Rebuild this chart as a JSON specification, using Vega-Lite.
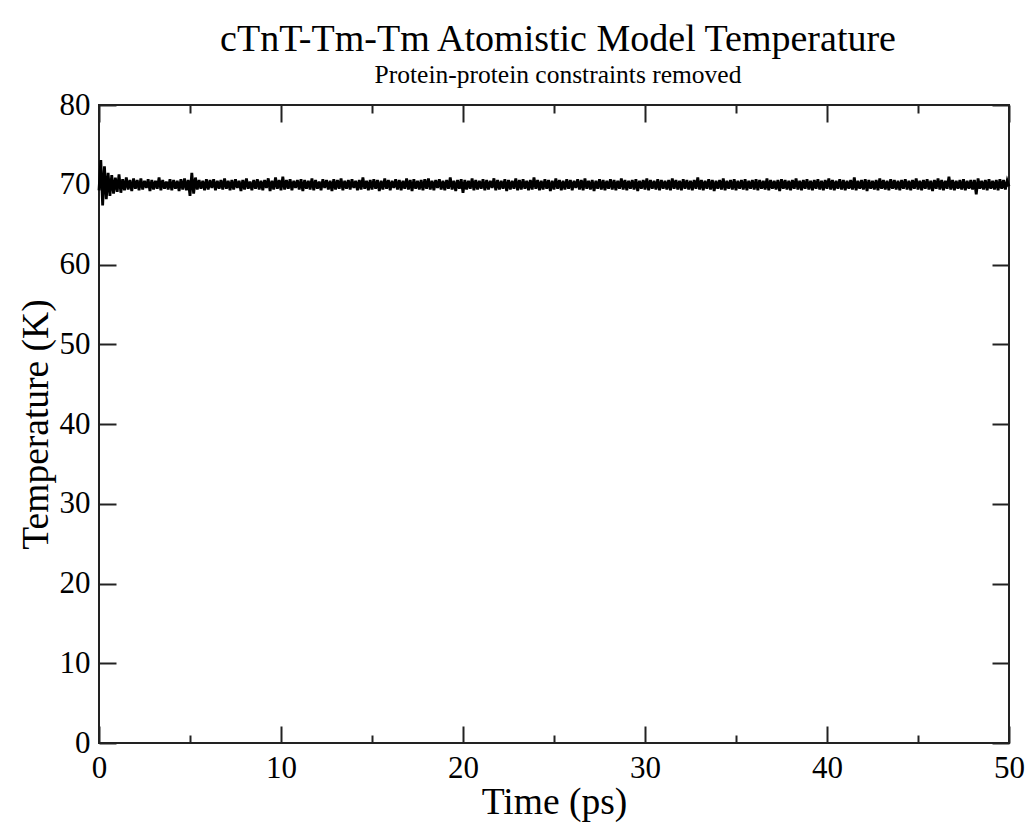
{
  "$schema": "https://vega.github.io/schema/vega-lite/v6.json",
  "width": 910,
  "height": 638,
  "autosize": {"type": "none"},
  "padding": {"left": 99, "top": 105, "right": 21, "bottom": 80},
  "background": "white",
  "config": {
    "view": {"stroke": "#222", "strokeWidth": 2},
    "font": "Liberation Serif",
    "axis": {
      "domain": false,
      "grid": false,
      "labelFont": "Liberation Serif",
      "labelFontSize": 30,
      "labelColor": "black",
      "labelFlush": false,
      "labelOverlap": false,
      "titleFont": "Liberation Serif",
      "titleFontSize": 37,
      "titleFontWeight": "normal",
      "titleColor": "black",
      "tickColor": "#222",
      "tickWidth": 2
    }
  },
  "title": {
    "text": "cTnT-Tm-Tm Atomistic Model Temperature",
    "subtitle": "Protein-protein constraints removed",
    "font": "Liberation Serif",
    "subtitleFont": "Liberation Serif",
    "fontSize": 38,
    "subtitleFontSize": 25.5,
    "fontWeight": "normal",
    "color": "black",
    "subtitleColor": "black",
    "anchor": "middle",
    "dx": 4,
    "offset": 1,
    "subtitlePadding": 4
  },
  "data": {"values": [
{"time":0.0,"temp":69.3},{"time":0.1,"temp":73.1},{"time":0.2,"temp":67.4},{"time":0.3,"temp":72.3},{"time":0.4,"temp":68.2},{"time":0.5,"temp":71.5},{"time":0.6,"temp":68.6},{"time":0.7,"temp":71.2},{"time":0.8,"temp":68.9},{"time":0.9,"temp":70.9},
{"time":1.0,"temp":69.1},{"time":1.1,"temp":71.3},{"time":1.2,"temp":69.0},{"time":1.3,"temp":70.7},{"time":1.4,"temp":69.3},{"time":1.5,"temp":70.9},{"time":1.6,"temp":69.4},{"time":1.7,"temp":70.6},{"time":1.8,"temp":69.2},{"time":1.9,"temp":70.8},
{"time":2.0,"temp":69.5},{"time":2.1,"temp":70.6},{"time":2.2,"temp":69.3},{"time":2.3,"temp":70.8},{"time":2.4,"temp":69.4},{"time":2.5,"temp":70.5},{"time":2.6,"temp":69.6},{"time":2.7,"temp":70.7},{"time":2.8,"temp":69.2},{"time":2.9,"temp":70.6},
{"time":3.0,"temp":69.4},{"time":3.1,"temp":70.5},{"time":3.2,"temp":69.5},{"time":3.3,"temp":70.9},{"time":3.4,"temp":69.3},{"time":3.5,"temp":70.6},{"time":3.6,"temp":69.5},{"time":3.7,"temp":70.4},{"time":3.8,"temp":69.4},{"time":3.9,"temp":70.7},
{"time":4.0,"temp":69.3},{"time":4.1,"temp":70.6},{"time":4.2,"temp":69.5},{"time":4.3,"temp":70.5},{"time":4.4,"temp":69.2},{"time":4.5,"temp":70.7},{"time":4.6,"temp":69.4},{"time":4.7,"temp":70.8},{"time":4.8,"temp":69.3},{"time":4.9,"temp":70.6},
{"time":5.0,"temp":68.6},{"time":5.1,"temp":71.5},{"time":5.2,"temp":68.9},{"time":5.3,"temp":70.9},{"time":5.4,"temp":69.4},{"time":5.5,"temp":70.6},{"time":5.6,"temp":69.5},{"time":5.7,"temp":70.5},{"time":5.8,"temp":69.3},{"time":5.9,"temp":70.7},
{"time":6.0,"temp":69.4},{"time":6.1,"temp":70.6},{"time":6.2,"temp":69.6},{"time":6.3,"temp":70.7},{"time":6.4,"temp":69.3},{"time":6.5,"temp":70.5},{"time":6.6,"temp":69.5},{"time":6.7,"temp":70.6},{"time":6.8,"temp":69.4},{"time":6.9,"temp":70.8},
{"time":7.0,"temp":69.5},{"time":7.1,"temp":70.5},{"time":7.2,"temp":69.3},{"time":7.3,"temp":70.6},{"time":7.4,"temp":69.4},{"time":7.5,"temp":70.7},{"time":7.6,"temp":69.6},{"time":7.7,"temp":70.5},{"time":7.8,"temp":69.2},{"time":7.9,"temp":70.6},
{"time":8.0,"temp":69.4},{"time":8.1,"temp":70.8},{"time":8.2,"temp":69.5},{"time":8.3,"temp":70.4},{"time":8.4,"temp":69.3},{"time":8.5,"temp":70.6},{"time":8.6,"temp":69.5},{"time":8.7,"temp":70.7},{"time":8.8,"temp":69.4},{"time":8.9,"temp":70.5},
{"time":9.0,"temp":69.3},{"time":9.1,"temp":70.6},{"time":9.2,"temp":69.6},{"time":9.3,"temp":70.8},{"time":9.4,"temp":69.2},{"time":9.5,"temp":70.5},{"time":9.6,"temp":69.4},{"time":9.7,"temp":70.9},{"time":9.8,"temp":69.5},{"time":9.9,"temp":70.6},
{"time":10.0,"temp":69.3},{"time":10.1,"temp":71.0},{"time":10.2,"temp":69.4},{"time":10.3,"temp":70.6},{"time":10.4,"temp":69.5},{"time":10.5,"temp":70.7},{"time":10.6,"temp":69.3},{"time":10.7,"temp":70.5},{"time":10.8,"temp":69.6},{"time":10.9,"temp":70.6},
{"time":11.0,"temp":69.4},{"time":11.1,"temp":70.7},{"time":11.2,"temp":69.2},{"time":11.3,"temp":70.6},{"time":11.4,"temp":69.5},{"time":11.5,"temp":70.5},{"time":11.6,"temp":69.4},{"time":11.7,"temp":70.8},{"time":11.8,"temp":69.3},{"time":11.9,"temp":70.6},
{"time":12.0,"temp":69.5},{"time":12.1,"temp":70.4},{"time":12.2,"temp":69.3},{"time":12.3,"temp":70.7},{"time":12.4,"temp":69.6},{"time":12.5,"temp":70.6},{"time":12.6,"temp":69.4},{"time":12.7,"temp":70.5},{"time":12.8,"temp":69.2},{"time":12.9,"temp":70.7},
{"time":13.0,"temp":69.4},{"time":13.1,"temp":70.6},{"time":13.2,"temp":69.5},{"time":13.3,"temp":70.8},{"time":13.4,"temp":69.3},{"time":13.5,"temp":70.5},{"time":13.6,"temp":69.5},{"time":13.7,"temp":70.6},{"time":13.8,"temp":69.4},{"time":13.9,"temp":70.7},
{"time":14.0,"temp":69.6},{"time":14.1,"temp":70.5},{"time":14.2,"temp":69.3},{"time":14.3,"temp":70.6},{"time":14.4,"temp":69.4},{"time":14.5,"temp":70.9},{"time":14.6,"temp":69.5},{"time":14.7,"temp":70.5},{"time":14.8,"temp":69.3},{"time":14.9,"temp":70.6},
{"time":15.0,"temp":69.4},{"time":15.1,"temp":70.7},{"time":15.2,"temp":69.5},{"time":15.3,"temp":70.6},{"time":15.4,"temp":69.2},{"time":15.5,"temp":70.5},{"time":15.6,"temp":69.4},{"time":15.7,"temp":70.8},{"time":15.8,"temp":69.5},{"time":15.9,"temp":70.6},
{"time":16.0,"temp":69.3},{"time":16.1,"temp":70.5},{"time":16.2,"temp":69.6},{"time":16.3,"temp":70.7},{"time":16.4,"temp":69.4},{"time":16.5,"temp":70.6},{"time":16.6,"temp":69.3},{"time":16.7,"temp":70.5},{"time":16.8,"temp":69.5},{"time":16.9,"temp":70.8},
{"time":17.0,"temp":69.4},{"time":17.1,"temp":70.6},{"time":17.2,"temp":69.2},{"time":17.3,"temp":70.7},{"time":17.4,"temp":69.5},{"time":17.5,"temp":70.5},{"time":17.6,"temp":69.4},{"time":17.7,"temp":70.6},{"time":17.8,"temp":69.3},{"time":17.9,"temp":70.7},
{"time":18.0,"temp":69.5},{"time":18.1,"temp":70.8},{"time":18.2,"temp":69.4},{"time":18.3,"temp":70.5},{"time":18.4,"temp":69.3},{"time":18.5,"temp":70.6},{"time":18.6,"temp":69.6},{"time":18.7,"temp":70.7},{"time":18.8,"temp":69.4},{"time":18.9,"temp":70.5},
{"time":19.0,"temp":69.3},{"time":19.1,"temp":70.6},{"time":19.2,"temp":69.5},{"time":19.3,"temp":70.9},{"time":19.4,"temp":69.4},{"time":19.5,"temp":70.5},{"time":19.6,"temp":69.2},{"time":19.7,"temp":70.6},{"time":19.8,"temp":69.5},{"time":19.9,"temp":70.7},
{"time":20.0,"temp":69.0},{"time":20.1,"temp":70.6},{"time":20.2,"temp":69.4},{"time":20.3,"temp":70.5},{"time":20.4,"temp":69.5},{"time":20.5,"temp":70.8},{"time":20.6,"temp":69.3},{"time":20.7,"temp":70.6},{"time":20.8,"temp":69.4},{"time":20.9,"temp":70.5},
{"time":21.0,"temp":69.5},{"time":21.1,"temp":70.7},{"time":21.2,"temp":69.3},{"time":21.3,"temp":70.6},{"time":21.4,"temp":69.4},{"time":21.5,"temp":70.5},{"time":21.6,"temp":69.6},{"time":21.7,"temp":70.8},{"time":21.8,"temp":69.3},{"time":21.9,"temp":70.6},
{"time":22.0,"temp":69.4},{"time":22.1,"temp":70.5},{"time":22.2,"temp":69.5},{"time":22.3,"temp":70.7},{"time":22.4,"temp":69.2},{"time":22.5,"temp":70.6},{"time":22.6,"temp":69.4},{"time":22.7,"temp":70.5},{"time":22.8,"temp":69.5},{"time":22.9,"temp":70.8},
{"time":23.0,"temp":69.3},{"time":23.1,"temp":70.6},{"time":23.2,"temp":69.4},{"time":23.3,"temp":70.7},{"time":23.4,"temp":69.5},{"time":23.5,"temp":70.5},{"time":23.6,"temp":69.3},{"time":23.7,"temp":70.6},{"time":23.8,"temp":69.4},{"time":23.9,"temp":70.9},
{"time":24.0,"temp":69.5},{"time":24.1,"temp":70.6},{"time":24.2,"temp":69.3},{"time":24.3,"temp":70.5},{"time":24.4,"temp":69.4},{"time":24.5,"temp":70.7},{"time":24.6,"temp":69.5},{"time":24.7,"temp":70.6},{"time":24.8,"temp":69.2},{"time":24.9,"temp":70.5},
{"time":25.0,"temp":69.4},{"time":25.1,"temp":70.8},{"time":25.2,"temp":69.5},{"time":25.3,"temp":70.6},{"time":25.4,"temp":69.3},{"time":25.5,"temp":70.5},{"time":25.6,"temp":69.4},{"time":25.7,"temp":70.7},{"time":25.8,"temp":69.5},{"time":25.9,"temp":70.6},
{"time":26.0,"temp":69.3},{"time":26.1,"temp":70.5},{"time":26.2,"temp":69.6},{"time":26.3,"temp":70.7},{"time":26.4,"temp":69.4},{"time":26.5,"temp":70.6},{"time":26.6,"temp":69.3},{"time":26.7,"temp":70.8},{"time":26.8,"temp":69.5},{"time":26.9,"temp":70.5},
{"time":27.0,"temp":69.4},{"time":27.1,"temp":70.6},{"time":27.2,"temp":69.2},{"time":27.3,"temp":70.5},{"time":27.4,"temp":69.5},{"time":27.5,"temp":70.7},{"time":27.6,"temp":69.4},{"time":27.7,"temp":70.6},{"time":27.8,"temp":69.3},{"time":27.9,"temp":70.5},
{"time":28.0,"temp":69.5},{"time":28.1,"temp":70.7},{"time":28.2,"temp":69.4},{"time":28.3,"temp":70.6},{"time":28.4,"temp":69.3},{"time":28.5,"temp":70.5},{"time":28.6,"temp":69.5},{"time":28.7,"temp":70.8},{"time":28.8,"temp":69.4},{"time":28.9,"temp":70.6},
{"time":29.0,"temp":69.3},{"time":29.1,"temp":70.5},{"time":29.2,"temp":69.5},{"time":29.3,"temp":70.6},{"time":29.4,"temp":69.4},{"time":29.5,"temp":70.7},{"time":29.6,"temp":69.2},{"time":29.7,"temp":70.5},{"time":29.8,"temp":69.5},{"time":29.9,"temp":70.6},
{"time":30.0,"temp":69.4},{"time":30.1,"temp":70.8},{"time":30.2,"temp":69.3},{"time":30.3,"temp":70.6},{"time":30.4,"temp":69.5},{"time":30.5,"temp":70.5},{"time":30.6,"temp":69.4},{"time":30.7,"temp":70.7},{"time":30.8,"temp":69.3},{"time":30.9,"temp":70.6},
{"time":31.0,"temp":69.5},{"time":31.1,"temp":70.5},{"time":31.2,"temp":69.4},{"time":31.3,"temp":70.6},{"time":31.4,"temp":69.3},{"time":31.5,"temp":70.8},{"time":31.6,"temp":69.5},{"time":31.7,"temp":70.6},{"time":31.8,"temp":69.4},{"time":31.9,"temp":70.5},
{"time":32.0,"temp":69.3},{"time":32.1,"temp":70.7},{"time":32.2,"temp":69.5},{"time":32.3,"temp":70.6},{"time":32.4,"temp":69.4},{"time":32.5,"temp":70.5},{"time":32.6,"temp":69.3},{"time":32.7,"temp":70.6},{"time":32.8,"temp":69.5},{"time":32.9,"temp":70.9},
{"time":33.0,"temp":69.4},{"time":33.1,"temp":70.6},{"time":33.2,"temp":69.3},{"time":33.3,"temp":70.5},{"time":33.4,"temp":69.5},{"time":33.5,"temp":70.7},{"time":33.6,"temp":69.4},{"time":33.7,"temp":70.6},{"time":33.8,"temp":69.2},{"time":33.9,"temp":70.5},
{"time":34.0,"temp":69.5},{"time":34.1,"temp":70.6},{"time":34.2,"temp":69.4},{"time":34.3,"temp":70.8},{"time":34.4,"temp":69.3},{"time":34.5,"temp":70.5},{"time":34.6,"temp":69.5},{"time":34.7,"temp":70.6},{"time":34.8,"temp":69.4},{"time":34.9,"temp":70.7},
{"time":35.0,"temp":69.3},{"time":35.1,"temp":70.5},{"time":35.2,"temp":69.5},{"time":35.3,"temp":70.6},{"time":35.4,"temp":69.4},{"time":35.5,"temp":70.7},{"time":35.6,"temp":69.3},{"time":35.7,"temp":70.5},{"time":35.8,"temp":69.5},{"time":35.9,"temp":70.6},
{"time":36.0,"temp":69.4},{"time":36.1,"temp":70.7},{"time":36.2,"temp":69.3},{"time":36.3,"temp":70.6},{"time":36.4,"temp":69.5},{"time":36.5,"temp":70.5},{"time":36.6,"temp":69.4},{"time":36.7,"temp":70.8},{"time":36.8,"temp":69.3},{"time":36.9,"temp":70.6},
{"time":37.0,"temp":69.5},{"time":37.1,"temp":70.5},{"time":37.2,"temp":69.4},{"time":37.3,"temp":70.6},{"time":37.4,"temp":69.2},{"time":37.5,"temp":70.7},{"time":37.6,"temp":69.5},{"time":37.7,"temp":70.6},{"time":37.8,"temp":69.4},{"time":37.9,"temp":70.5},
{"time":38.0,"temp":69.3},{"time":38.1,"temp":70.6},{"time":38.2,"temp":69.5},{"time":38.3,"temp":70.8},{"time":38.4,"temp":69.4},{"time":38.5,"temp":70.5},{"time":38.6,"temp":69.3},{"time":38.7,"temp":70.6},{"time":38.8,"temp":69.5},{"time":38.9,"temp":70.7},
{"time":39.0,"temp":69.4},{"time":39.1,"temp":70.5},{"time":39.2,"temp":69.3},{"time":39.3,"temp":70.6},{"time":39.4,"temp":69.5},{"time":39.5,"temp":70.7},{"time":39.6,"temp":69.4},{"time":39.7,"temp":70.5},{"time":39.8,"temp":69.3},{"time":39.9,"temp":70.6},
{"time":40.0,"temp":69.5},{"time":40.1,"temp":70.8},{"time":40.2,"temp":69.4},{"time":40.3,"temp":70.6},{"time":40.4,"temp":69.3},{"time":40.5,"temp":70.5},{"time":40.6,"temp":69.5},{"time":40.7,"temp":70.7},{"time":40.8,"temp":69.4},{"time":40.9,"temp":70.6},
{"time":41.0,"temp":69.3},{"time":41.1,"temp":70.5},{"time":41.2,"temp":69.5},{"time":41.3,"temp":70.6},{"time":41.4,"temp":69.4},{"time":41.5,"temp":70.9},{"time":41.6,"temp":69.3},{"time":41.7,"temp":70.5},{"time":41.8,"temp":69.5},{"time":41.9,"temp":70.6},
{"time":42.0,"temp":69.4},{"time":42.1,"temp":70.7},{"time":42.2,"temp":69.2},{"time":42.3,"temp":70.6},{"time":42.4,"temp":69.5},{"time":42.5,"temp":70.5},{"time":42.6,"temp":69.4},{"time":42.7,"temp":70.6},{"time":42.8,"temp":69.3},{"time":42.9,"temp":70.8},
{"time":43.0,"temp":69.5},{"time":43.1,"temp":70.6},{"time":43.2,"temp":69.4},{"time":43.3,"temp":70.5},{"time":43.4,"temp":69.3},{"time":43.5,"temp":70.7},{"time":43.6,"temp":69.5},{"time":43.7,"temp":70.6},{"time":43.8,"temp":69.4},{"time":43.9,"temp":70.5},
{"time":44.0,"temp":69.3},{"time":44.1,"temp":70.6},{"time":44.2,"temp":69.5},{"time":44.3,"temp":70.7},{"time":44.4,"temp":69.4},{"time":44.5,"temp":70.5},{"time":44.6,"temp":69.3},{"time":44.7,"temp":70.6},{"time":44.8,"temp":69.5},{"time":44.9,"temp":70.8},
{"time":45.0,"temp":69.4},{"time":45.1,"temp":70.5},{"time":45.2,"temp":69.3},{"time":45.3,"temp":70.6},{"time":45.4,"temp":69.5},{"time":45.5,"temp":70.7},{"time":45.6,"temp":69.4},{"time":45.7,"temp":70.5},{"time":45.8,"temp":69.2},{"time":45.9,"temp":70.6},
{"time":46.0,"temp":69.5},{"time":46.1,"temp":70.8},{"time":46.2,"temp":69.4},{"time":46.3,"temp":70.6},{"time":46.4,"temp":69.3},{"time":46.5,"temp":70.5},{"time":46.6,"temp":69.5},{"time":46.7,"temp":71.0},{"time":46.8,"temp":69.4},{"time":46.9,"temp":70.6},
{"time":47.0,"temp":69.3},{"time":47.1,"temp":70.5},{"time":47.2,"temp":69.5},{"time":47.3,"temp":70.6},{"time":47.4,"temp":69.4},{"time":47.5,"temp":70.7},{"time":47.6,"temp":69.3},{"time":47.7,"temp":70.5},{"time":47.8,"temp":69.5},{"time":47.9,"temp":70.6},
{"time":48.0,"temp":69.4},{"time":48.1,"temp":70.6},{"time":48.2,"temp":68.8},{"time":48.3,"temp":70.8},{"time":48.4,"temp":69.5},{"time":48.5,"temp":70.5},{"time":48.6,"temp":69.4},{"time":48.7,"temp":70.6},{"time":48.8,"temp":69.3},{"time":48.9,"temp":70.7},
{"time":49.0,"temp":69.5},{"time":49.1,"temp":70.5},{"time":49.2,"temp":69.4},{"time":49.3,"temp":70.6},{"time":49.4,"temp":69.3},{"time":49.5,"temp":70.7},{"time":49.6,"temp":69.5},{"time":49.7,"temp":70.6},{"time":49.8,"temp":69.4},{"time":49.9,"temp":70.5},
{"time":50.0,"temp":69.8}
  ]},
  "resolve": {"axis": {"x": "independent", "y": "independent"}},
  "layer": [
    {
      "mark": {"type": "line", "color": "black", "strokeWidth": 2.8},
      "encoding": {
        "x": {"field": "time", "type": "quantitative",
          "scale": {"domain": [0, 50], "nice": false, "zero": false},
          "axis": {"orient": "bottom", "values": [0, 10, 20, 30, 40, 50], "title": "Time (ps)", "tickSize": -17, "labelPadding": 27, "titlePadding": 0,
            "labelFont": "Liberation Serif", "labelFontSize": 31, "labelColor": "black", "titleFont": "Liberation Serif", "titleFontSize": 37.5}},
        "y": {"field": "temp", "type": "quantitative",
          "scale": {"domain": [0, 80], "nice": false, "zero": false},
          "axis": {"orient": "left", "values": [0, 10, 20, 30, 40, 50, 60, 70, 80], "title": "Temperature (K)", "tickSize": -17, "labelPadding": 26, "titlePadding": 4,
            "labelFont": "Liberation Serif", "labelFontSize": 31, "labelColor": "black", "titleFont": "Liberation Serif", "titleFontSize": 37.5}}
      }
    },
    {
      "mark": {"type": "point", "opacity": 0},
      "encoding": {
        "x": {"field": "time", "type": "quantitative",
          "axis": {"orient": "top", "values": [0, 10, 20, 30, 40, 50], "title": null, "labels": false, "tickSize": -17}},
        "y": {"field": "temp", "type": "quantitative",
          "axis": {"orient": "right", "values": [0, 10, 20, 30, 40, 50, 60, 70, 80], "title": null, "labels": false, "tickSize": -17}}
      }
    },
    {
      "mark": {"type": "point", "opacity": 0},
      "encoding": {
        "x": {"field": "time", "type": "quantitative",
          "axis": {"orient": "bottom", "values": [5, 15, 25, 35, 45], "title": null, "labels": false, "tickSize": -8}},
        "y": {"field": "temp", "type": "quantitative", "axis": null}
      }
    },
    {
      "mark": {"type": "point", "opacity": 0},
      "encoding": {
        "x": {"field": "time", "type": "quantitative",
          "axis": {"orient": "top", "values": [5, 15, 25, 35, 45], "title": null, "labels": false, "tickSize": -8}},
        "y": {"field": "temp", "type": "quantitative", "axis": null}
      }
    }
  ]
}
